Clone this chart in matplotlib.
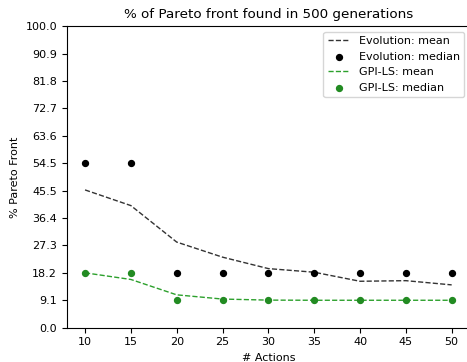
import matplotlib
matplotlib.use("Agg")
import matplotlib.pyplot as plt
import numpy as np

actions = [10, 15, 20, 25, 30, 35, 40, 45, 50]
evo_mean = [45.7, 40.5, 28.4, 23.4, 19.6, 18.4, 15.4, 15.6, 14.2]
evo_median = [54.5, 54.5, 18.2, 18.2, 18.2, 18.2, 18.2, 18.2, 18.2]
gpi_mean = [18.2, 16.0, 10.9, 9.5, 9.15, 9.1, 9.1, 9.1, 9.1]
gpi_median = [18.2, 18.2, 9.1, 9.1, 9.1, 9.1, 9.1, 9.1, 9.1]
yticks = np.linspace(0, 100, 12)

fig = plt.figure(figsize=(4.67, 3.62), dpi=100)
ax = fig.add_axes([66.7/467, (362-327.7)/362, 403.3/467, 301.5/362])
ax.plot(actions, evo_mean, '--', color='#333333', lw=1, label='Evolution: mean')
ax.scatter(actions, evo_median, color='black', s=18, label='Evolution: median', zorder=3)
ax.plot(actions, gpi_mean, '--', color='#2ca02c', lw=1, label='GPI-LS: mean')
ax.scatter(actions, gpi_median, color='#228b22', s=18, label='GPI-LS: median', zorder=3)
ax.set_ylim(0, 100)
ax.set_yticks(yticks)
ax.set_yticklabels([f"{v:.1f}" for v in yticks])
ax.set_xticks(actions)
ax.set_xlim(8, 52)
ax.tick_params(labelsize=8)
ax.set_xlabel('# Actions', fontsize=8)
ax.set_ylabel('% Pareto Front', fontsize=8)
ax.set_title('% of Pareto front found in 500 generations', fontsize=9.7)
ax.legend(fontsize=8, loc='upper right')
fig.savefig('out.png', dpi=100)
